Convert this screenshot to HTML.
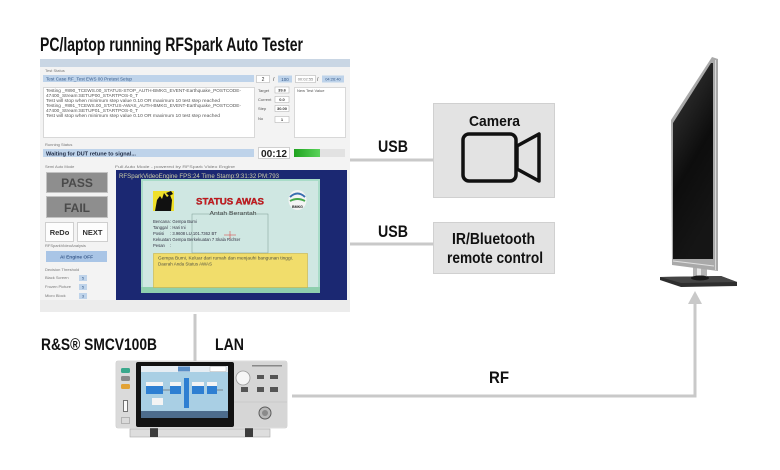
<!DOCTYPE html>
<html><head><meta charset="utf-8"><style>
html,body{margin:0;padding:0;background:#fff;}
svg{display:block;}
text{font-family:"Liberation Sans",Arial,sans-serif;}
</style></head><body>
<svg width="780" height="470" viewBox="0 0 780 470" xmlns="http://www.w3.org/2000/svg">
<defs>
<linearGradient id="scr" x1="0" y1="0" x2="0.35" y2="1">
<stop offset="0" stop-color="#7a7a7a"/><stop offset="0.22" stop-color="#2a2a2a"/><stop offset="0.6" stop-color="#0d0d0d"/><stop offset="1" stop-color="#151515"/>
</linearGradient>
<linearGradient id="grn" x1="0" y1="0" x2="1" y2="0"><stop offset="0" stop-color="#1fa31f"/><stop offset="1" stop-color="#5bd35b"/></linearGradient>
</defs>
<rect width="780" height="470" fill="#fff"/>

<!-- Title -->
<text x="40" y="51" font-size="19" font-weight="bold" fill="#111" textLength="263" lengthAdjust="spacingAndGlyphs">PC/laptop running RFSpark Auto Tester</text>

<!-- Connectors -->
<g stroke="#c9c9c9" stroke-width="3" fill="none">
<line x1="350" y1="160" x2="434" y2="160"/>
<line x1="350" y1="244" x2="434" y2="244"/>
<line x1="195" y1="314" x2="195" y2="362"/>
<polyline points="292,396 695,396 695,300"/>
</g>
<polygon points="688,304 702,304 695,291" fill="#c9c9c9"/>

<!-- Labels -->
<g font-weight="bold" fill="#111">
<text x="378" y="152" font-size="17" textLength="30" lengthAdjust="spacingAndGlyphs">USB</text>
<text x="378" y="237" font-size="17" textLength="30" lengthAdjust="spacingAndGlyphs">USB</text>
<text x="41" y="350" font-size="16.5" textLength="116" lengthAdjust="spacingAndGlyphs">R&amp;S® SMCV100B</text>
<text x="215" y="350" font-size="16.5" textLength="29" lengthAdjust="spacingAndGlyphs">LAN</text>
<text x="489" y="383" font-size="16.5" textLength="20" lengthAdjust="spacingAndGlyphs">RF</text>
</g>

<!-- Camera box -->
<rect x="433.5" y="103.5" width="121" height="94" fill="#e3e3e3" stroke="#d0d0d0"/>
<text x="469" y="126" font-size="15" font-weight="bold" fill="#111" textLength="51" lengthAdjust="spacingAndGlyphs">Camera</text>
<rect x="463" y="134" width="53" height="47" rx="6" fill="none" stroke="#111" stroke-width="3.5"/>
<polygon points="517,146 539,134 539,181 517,169" fill="none" stroke="#111" stroke-width="3.5" stroke-linejoin="round"/>

<!-- IR box -->
<rect x="433.5" y="222.5" width="121" height="51" fill="#e3e3e3" stroke="#d0d0d0"/>
<text x="452" y="244" font-size="16" font-weight="bold" fill="#111" textLength="83" lengthAdjust="spacingAndGlyphs">IR/Bluetooth</text>
<text x="447" y="263" font-size="16" font-weight="bold" fill="#111" textLength="96" lengthAdjust="spacingAndGlyphs">remote control</text>

<!-- TV -->
<polygon points="660,277 721,276 737,282 737,286 681,287 660,280" fill="#2e2e2e"/>
<polygon points="660,277 721,276 737,282 681,283" fill="#454545"/>
<rect x="693" y="266" width="14" height="12" fill="#b5b5b5"/>
<rect x="697" y="266" width="4" height="12" fill="#e8e8e8"/>
<ellipse cx="700" cy="278" rx="9" ry="2.5" fill="#1a1a1a"/>
<polygon points="671,120 712,57 718,59 718,271 672,265" fill="#a9a9a9"/>
<polygon points="673,123 711,63 713,63 713,259 673,259" fill="url(#scr)"/>
<line x1="673" y1="261" x2="714" y2="266" stroke="#e0e0e0" stroke-width="1"/>
<line x1="715.5" y1="60" x2="715.5" y2="270" stroke="#d8d8d8" stroke-width="1"/>

<!-- PC window -->
<rect x="40" y="59" width="310" height="253" fill="#f3f3f3"/>
<rect x="40" y="59" width="310" height="8" fill="#c9d6e4"/>
<rect x="40" y="300" width="310" height="12" fill="#ececec"/>
<g font-size="4" fill="#777">
<text x="45" y="72">Test Status</text>
<text x="45" y="146">Running Status</text>
<text x="45" y="168">Semi Auto Mode</text>
<text x="115" y="168" textLength="120" lengthAdjust="spacingAndGlyphs">Full Auto Mode - powered by RFSpark Video Engine</text>
<text x="45" y="247">RFSparkVideoAnalysis</text>
<text x="45" y="271">Decision Threshold</text>
<text x="45" y="279">Black Screen</text>
<text x="45" y="288">Frozen Picture</text>
<text x="45" y="297">Micro Block</text>
</g>
<rect x="43" y="75" width="211" height="7" fill="#bed3ea"/>
<text x="46" y="80.6" font-size="4.8" fill="#34598a" textLength="86" lengthAdjust="spacingAndGlyphs">Test Case RF_Test EWS 00 Pretest Setup</text>
<rect x="256.5" y="75.5" width="13" height="7" fill="#fff" stroke="#aaa" stroke-width="0.5"/>
<text x="263" y="81" font-size="5" text-anchor="middle" fill="#333">2</text>
<text x="273" y="81" font-size="5" fill="#333">/</text>
<rect x="278" y="75.5" width="14" height="7" fill="#bed3ea"/>
<text x="285" y="81" font-size="4.5" text-anchor="middle" fill="#34598a">100</text>
<rect x="295.5" y="75.5" width="20" height="7" fill="#fff" stroke="#aaa" stroke-width="0.5"/>
<text x="305.5" y="80.6" font-size="4" text-anchor="middle" fill="#777">00:02:55</text>
<text x="317" y="81" font-size="5" fill="#333">/</text>
<rect x="322" y="75.5" width="22" height="7" fill="#bed3ea"/>
<text x="333" y="80.6" font-size="4" text-anchor="middle" fill="#34598a">04:26:40</text>

<rect x="43.5" y="87.5" width="211" height="50" fill="#fff" stroke="#c4c4c4" stroke-width="0.6"/>
<g font-size="4.2" fill="#555">
<text x="46" y="92" textLength="195" lengthAdjust="spacingAndGlyphs">Testing _#890_TCEWS.00_STATUS-STOP_AUTH-BMKG_EVENT-Earthquake_POSTCODE-</text>
<text x="46" y="97" textLength="92" lengthAdjust="spacingAndGlyphs">47400_Stream:SETUP00_STARTPOS-0_T</text>
<text x="46" y="102" textLength="174" lengthAdjust="spacingAndGlyphs">Test will stop when minimum step value 0.10 OR maximum 10 test step reached</text>
<text x="46" y="107" textLength="195" lengthAdjust="spacingAndGlyphs">Testing _#891_TCEWS.00_STATUS-AWAS_AUTH-BMKG_EVENT-Earthquake_POSTCODE-</text>
<text x="46" y="112" textLength="92" lengthAdjust="spacingAndGlyphs">47400_Stream:SETUP01_STARTPOS-0_T</text>
<text x="46" y="117" textLength="174" lengthAdjust="spacingAndGlyphs">Test will stop when minimum step value 0.10 OR maximum 10 test step reached</text>
</g>
<g font-size="4" fill="#555">
<text x="258" y="92">Target</text>
<text x="258" y="101">Current</text>
<text x="258" y="110">Step</text>
<text x="258" y="120">No</text>
</g>
<g fill="#fff" stroke="#aaa" stroke-width="0.5">
<rect x="275" y="87" width="14" height="6"/>
<rect x="275" y="96.5" width="14" height="6"/>
<rect x="275" y="105.5" width="14" height="6"/>
<rect x="275" y="116.5" width="14" height="6"/>
</g>
<g font-size="4" fill="#333" text-anchor="middle" font-weight="bold">
<text x="282" y="91.6">39.6</text>
<text x="282" y="101">0.0</text>
<text x="282" y="110">30.00</text>
<text x="282" y="121">1</text>
</g>
<rect x="294.5" y="87.5" width="51" height="50" fill="#fff" stroke="#c4c4c4" stroke-width="0.6"/>
<text x="297" y="92" font-size="4" fill="#555">New Test Value</text>

<rect x="43" y="149" width="211" height="8" fill="#bed3ea"/>
<text x="46" y="155.5" font-size="5.6" font-weight="bold" fill="#1e2a44" textLength="90" lengthAdjust="spacingAndGlyphs">Waiting for DUT retune to signal...</text>
<rect x="258.5" y="147.5" width="31" height="11" fill="#fff" stroke="#b5b5b5" stroke-width="0.6"/>
<text x="274" y="157" font-size="10" font-weight="bold" fill="#222" text-anchor="middle" textLength="26" lengthAdjust="spacingAndGlyphs">00:12</text>
<rect x="294" y="149" width="51" height="8" fill="#e2e2e2"/>
<rect x="294" y="149" width="26" height="8" fill="url(#grn)"/>

<!-- Left buttons -->
<rect x="46.5" y="172.5" width="61" height="20" fill="#8e8e8e" stroke="#c2c2c2"/>
<text x="77" y="187" font-size="12" font-weight="bold" fill="#4a4a4a" text-anchor="middle">PASS</text>
<rect x="46.5" y="196.5" width="61" height="21" fill="#8e8e8e" stroke="#c2c2c2"/>
<text x="77" y="212" font-size="12" font-weight="bold" fill="#4a4a4a" text-anchor="middle">FAIL</text>
<rect x="45.5" y="222.5" width="28" height="19" fill="#fdfdfd" stroke="#cfcfcf"/>
<text x="59.5" y="235" font-size="7.5" font-weight="bold" fill="#333" text-anchor="middle">ReDo</text>
<rect x="77.5" y="222.5" width="30" height="19" fill="#fdfdfd" stroke="#cfcfcf"/>
<text x="92.5" y="235" font-size="7.5" font-weight="bold" fill="#333" text-anchor="middle">NEXT</text>
<rect x="46" y="251" width="61" height="11" fill="#a9c5e6"/>
<text x="76.5" y="258.5" font-size="4.8" font-weight="bold" fill="#3a5b8c" text-anchor="middle">AI Engine OFF</text>
<g fill="#bed3ea"><rect x="79" y="275" width="8" height="6"/><rect x="79" y="284" width="8" height="6"/><rect x="79" y="293" width="8" height="6"/></g>
<g font-size="4" fill="#34598a" text-anchor="middle"><text x="83" y="279.5">5</text><text x="83" y="288.5">5</text><text x="83" y="297.5">3</text></g>

<!-- Video panel -->
<rect x="116" y="170" width="231" height="130" fill="#1b2872"/>
<text x="119" y="178" font-size="6" fill="#cfcfa6" textLength="160" lengthAdjust="spacingAndGlyphs">RFSparkVideoEngine FPS:24 Time Stamp:9:31:32 PM:793</text>
<rect x="141" y="179" width="179" height="114" fill="#a9dcc8"/>
<rect x="143" y="181" width="175" height="106" fill="#cfe7e2"/>
<rect x="141" y="287" width="179" height="6" fill="#8fcfae"/>
<!-- logo left -->
<rect x="153" y="191" width="21" height="20" fill="#efe02a"/>
<polygon points="155,211 157,200 160,196 162,199 164,193 167,197 170,195 172,200 171,211" fill="#111"/>
<polygon points="166,193 171,191 173,194 169,196" fill="#111"/>
<text x="196" y="204.5" font-size="9.5" font-weight="bold" fill="#d01a1f" stroke="#8a0f12" stroke-width="0.3" textLength="68" lengthAdjust="spacingAndGlyphs">STATUS AWAS</text>
<!-- BMKG logo -->
<ellipse cx="297.5" cy="200" rx="9" ry="10" fill="#f4f4f4"/>
<path d="M290,197 Q297.5,190 305,197" stroke="#3a6fb0" stroke-width="2" fill="none"/>
<path d="M290,201 Q297.5,197 305,201" stroke="#45a84a" stroke-width="2" fill="none"/>
<text x="297.5" y="208" font-size="3.6" font-weight="bold" fill="#222" text-anchor="middle">BMKG</text>
<text x="233" y="215" font-size="5.5" fill="#333" text-anchor="middle" textLength="47" lengthAdjust="spacingAndGlyphs">Antah Berantah</text>
<rect x="192" y="214" width="76" height="39" fill="none" stroke="#7d9a94" stroke-width="0.5"/>
<g font-size="4.2" fill="#334">
<text x="153" y="223">Bencana</text><text x="170" y="223">: Gempa Bumi</text>
<text x="153" y="229">Tanggal</text><text x="170" y="229">: Hari Ini</text>
<text x="153" y="235">Posisi</text><text x="170" y="235">: 3.9608 LU,101.7362 BT</text>
<text x="153" y="241">Kekuatan</text><text x="170" y="241">: Gempa Berkekuatan 7 Skala Richter</text>
<text x="153" y="247">Pesan</text><text x="170" y="247">:</text>
</g>
<line x1="224" y1="235" x2="236" y2="235" stroke="#d33" stroke-width="0.5"/>
<line x1="230" y1="231" x2="230" y2="239" stroke="#d33" stroke-width="0.5"/>
<rect x="153.5" y="253.5" width="154" height="34" fill="#f1dd6b" stroke="#c9b34a" stroke-width="0.6"/>
<g font-size="4.4" fill="#554">
<text x="158" y="259.5" textLength="135" lengthAdjust="spacingAndGlyphs">Gempa Bumi, Keluar dari rumah dan menjauhi bangunan tinggi.</text>
<text x="158" y="265.5" textLength="54" lengthAdjust="spacingAndGlyphs">Daerah Anda Status AWAS</text>
</g>

<!-- Instrument -->
<rect x="130" y="429" width="140" height="8" fill="#dedede" stroke="#a8a8a8" stroke-width="0.6"/>
<rect x="150" y="426" width="8" height="11" fill="#3d3d3d"/>
<rect x="245" y="426" width="8" height="11" fill="#3d3d3d"/>
<rect x="116" y="361" width="171" height="67" rx="2" fill="#e4e4e4" stroke="#bdbdbd" stroke-width="0.6"/>
<rect x="117" y="362" width="19" height="65" fill="#dadada"/>
<rect x="121" y="368" width="9" height="5" rx="1.5" fill="#3aa88c"/>
<rect x="121" y="376" width="9" height="5" rx="1.5" fill="#8a8a8a"/>
<rect x="121" y="384" width="9" height="5" rx="1.5" fill="#e2a236"/>
<rect x="123.5" y="400.5" width="4" height="11" fill="#fafafa" stroke="#555" stroke-width="0.8"/>
<rect x="121.5" y="417.5" width="8" height="6" fill="none" stroke="#999" stroke-width="0.6"/>
<rect x="136" y="362" width="98" height="65" rx="2" fill="#121212"/>
<rect x="141" y="366" width="87" height="52" fill="#a9cfe4"/>
<rect x="141" y="366" width="87" height="6" fill="#e6edf3"/>
<rect x="178" y="366.5" width="12" height="5" fill="#5b8fc7"/>
<rect x="210" y="366.5" width="16" height="5" fill="#fff" stroke="#888" stroke-width="0.3"/>
<g fill="#2e7fd2">
<rect x="146" y="386" width="17" height="8"/><rect x="170" y="386" width="11" height="8"/>
<rect x="184" y="378" width="5" height="30"/><rect x="192" y="386" width="12" height="8"/>
<rect x="207" y="386" width="10" height="8"/>
</g>
<g fill="#f4f4f4"><rect x="146" y="382" width="17" height="4"/><rect x="170" y="382" width="11" height="4"/><rect x="192" y="382" width="12" height="4"/><rect x="207" y="382" width="10" height="4"/><rect x="152" y="398" width="11" height="7"/></g>
<line x1="163" y1="390" x2="170" y2="390" stroke="#555" stroke-width="0.6"/>
<line x1="217" y1="390" x2="223" y2="390" stroke="#555" stroke-width="0.6"/>
<rect x="141" y="411" width="87" height="7" fill="#4d6c8c"/>
<rect x="234" y="362" width="53" height="65" fill="#d6d6d6"/>
<line x1="234" y1="402" x2="287" y2="402" stroke="#bbb" stroke-width="0.6"/>
<circle cx="243" cy="378" r="7" fill="#f6f6f6" stroke="#9a9a9a" stroke-width="0.8"/>
<g fill="#555">
<rect x="257" y="375" width="7" height="4"/><rect x="270" y="375" width="8" height="4"/>
<rect x="241" y="387" width="7" height="5"/><rect x="257" y="387" width="7" height="5"/><rect x="270" y="387" width="8" height="5"/>
</g>
<rect x="252" y="365" width="30" height="1.5" fill="#888"/>
<circle cx="265" cy="413" r="6" fill="#b8b8b8" stroke="#5a5a5a" stroke-width="1"/>
<circle cx="265" cy="413" r="3" fill="#8a8a8a"/>
</svg>
</body></html>
